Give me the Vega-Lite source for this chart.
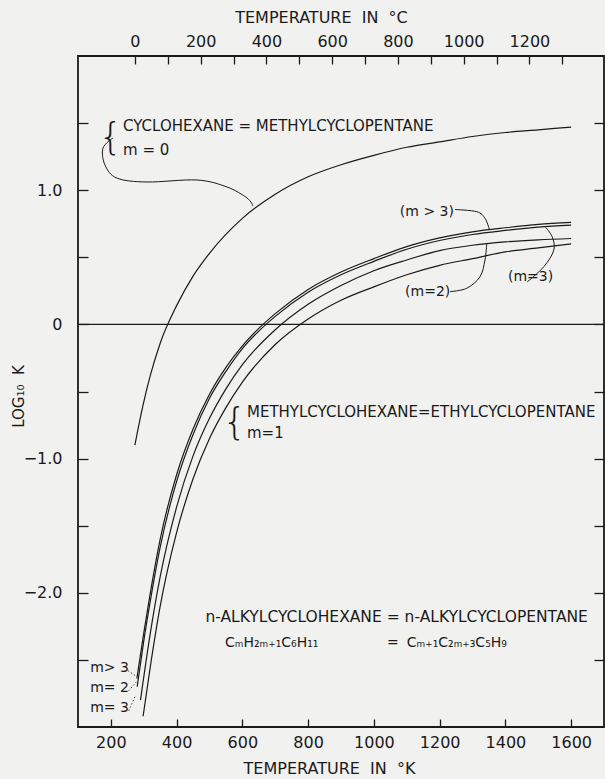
{
  "$schema": "https://vega.github.io/schema/vega-lite/v6.json",
  "width": 526,
  "height": 671,
  "autosize": "none",
  "padding": {"left": 78, "top": 56, "right": 1, "bottom": 52},
  "background": "#f1f1ef",
  "config": {
    "view": {"stroke": "#1a1a1a", "strokeWidth": 1.8},
    "font": "DejaVu Sans",
    "text": {"font": "DejaVu Sans", "color": "#1a1a1a"},
    "axis": {
      "domain": false, "grid": false, "tickColor": "#1a1a1a", "tickWidth": 1.3,
      "labelFont": "DejaVu Sans", "labelFontSize": 16, "labelColor": "#1a1a1a",
      "titleFont": "DejaVu Sans", "titleFontSize": 16, "titleFontWeight": "normal", "titleColor": "#1a1a1a"
    }
  },
  "datasets": {
    "curves": [
      {"s": "m0", "K": 273, "L": -0.90}, {"s": "m0", "K": 298, "L": -0.60}, {"s": "m0", "K": 320, "L": -0.38},
      {"s": "m0", "K": 350, "L": -0.14}, {"s": "m0", "K": 400, "L": 0.14}, {"s": "m0", "K": 450, "L": 0.36},
      {"s": "m0", "K": 500, "L": 0.53}, {"s": "m0", "K": 600, "L": 0.79}, {"s": "m0", "K": 700, "L": 0.97},
      {"s": "m0", "K": 800, "L": 1.10}, {"s": "m0", "K": 900, "L": 1.19}, {"s": "m0", "K": 1000, "L": 1.26},
      {"s": "m0", "K": 1100, "L": 1.32}, {"s": "m0", "K": 1200, "L": 1.36}, {"s": "m0", "K": 1300, "L": 1.40},
      {"s": "m0", "K": 1400, "L": 1.43}, {"s": "m0", "K": 1500, "L": 1.45}, {"s": "m0", "K": 1600, "L": 1.47},

      {"s": "a", "K": 279, "L": -2.64}, {"s": "a", "K": 300, "L": -2.30}, {"s": "a", "K": 320, "L": -2.0},
      {"s": "a", "K": 350, "L": -1.60}, {"s": "a", "K": 400, "L": -1.12}, {"s": "a", "K": 450, "L": -0.78},
      {"s": "a", "K": 500, "L": -0.52}, {"s": "a", "K": 550, "L": -0.32}, {"s": "a", "K": 600, "L": -0.16},
      {"s": "a", "K": 650, "L": -0.03}, {"s": "a", "K": 700, "L": 0.08}, {"s": "a", "K": 800, "L": 0.26},
      {"s": "a", "K": 900, "L": 0.39}, {"s": "a", "K": 1000, "L": 0.49}, {"s": "a", "K": 1100, "L": 0.58},
      {"s": "a", "K": 1200, "L": 0.645}, {"s": "a", "K": 1300, "L": 0.69}, {"s": "a", "K": 1400, "L": 0.72},
      {"s": "a", "K": 1500, "L": 0.745}, {"s": "a", "K": 1600, "L": 0.76},

      {"s": "b", "K": 280, "L": -2.70}, {"s": "b", "K": 300, "L": -2.36}, {"s": "b", "K": 320, "L": -2.06},
      {"s": "b", "K": 350, "L": -1.66}, {"s": "b", "K": 400, "L": -1.17}, {"s": "b", "K": 450, "L": -0.82},
      {"s": "b", "K": 500, "L": -0.55}, {"s": "b", "K": 550, "L": -0.35}, {"s": "b", "K": 600, "L": -0.18},
      {"s": "b", "K": 650, "L": -0.05}, {"s": "b", "K": 700, "L": 0.06}, {"s": "b", "K": 800, "L": 0.24},
      {"s": "b", "K": 900, "L": 0.37}, {"s": "b", "K": 1000, "L": 0.47}, {"s": "b", "K": 1100, "L": 0.56},
      {"s": "b", "K": 1200, "L": 0.625}, {"s": "b", "K": 1300, "L": 0.67}, {"s": "b", "K": 1400, "L": 0.70},
      {"s": "b", "K": 1500, "L": 0.725}, {"s": "b", "K": 1600, "L": 0.74},

      {"s": "c", "K": 298, "L": -2.92}, {"s": "c", "K": 320, "L": -2.55}, {"s": "c", "K": 350, "L": -2.10},
      {"s": "c", "K": 400, "L": -1.55}, {"s": "c", "K": 450, "L": -1.15}, {"s": "c", "K": 500, "L": -0.85},
      {"s": "c", "K": 550, "L": -0.62}, {"s": "c", "K": 600, "L": -0.43}, {"s": "c", "K": 700, "L": -0.15},
      {"s": "c", "K": 800, "L": 0.04}, {"s": "c", "K": 900, "L": 0.18}, {"s": "c", "K": 1000, "L": 0.28},
      {"s": "c", "K": 1100, "L": 0.37}, {"s": "c", "K": 1200, "L": 0.44}, {"s": "c", "K": 1300, "L": 0.49},
      {"s": "c", "K": 1400, "L": 0.54}, {"s": "c", "K": 1500, "L": 0.57}, {"s": "c", "K": 1600, "L": 0.60},

      {"s": "d", "K": 290, "L": -2.80}, {"s": "d", "K": 320, "L": -2.30}, {"s": "d", "K": 350, "L": -1.88},
      {"s": "d", "K": 400, "L": -1.36}, {"s": "d", "K": 450, "L": -0.98}, {"s": "d", "K": 500, "L": -0.70},
      {"s": "d", "K": 550, "L": -0.48}, {"s": "d", "K": 600, "L": -0.30}, {"s": "d", "K": 700, "L": -0.04},
      {"s": "d", "K": 800, "L": 0.15}, {"s": "d", "K": 900, "L": 0.29}, {"s": "d", "K": 1000, "L": 0.40},
      {"s": "d", "K": 1100, "L": 0.48}, {"s": "d", "K": 1200, "L": 0.55}, {"s": "d", "K": 1300, "L": 0.59},
      {"s": "d", "K": 1400, "L": 0.615}, {"s": "d", "K": 1500, "L": 0.63}, {"s": "d", "K": 1600, "L": 0.64}
    ],
    "arrows": [
      {"id": "a1", "o": 1, "K": 206.5, "L": 1.389}, {"id": "a1", "o": 2, "K": 176, "L": 1.314},
      {"id": "a1", "o": 3, "K": 182.1, "L": 1.187}, {"id": "a1", "o": 4, "K": 218.6, "L": 1.09},
      {"id": "a1", "o": 5, "K": 309.9, "L": 1.061}, {"id": "a1", "o": 6, "K": 462, "L": 1.076},
      {"id": "a1", "o": 7, "K": 553.2, "L": 1.024}, {"id": "a1", "o": 8, "K": 614.1, "L": 0.942},
      {"id": "a1", "o": 9, "K": 632.3, "L": 0.882},
      {"id": "a2", "o": 1, "K": 1246.8, "L": 0.856}, {"id": "a2", "o": 2, "K": 1312.8, "L": 0.84},
      {"id": "a2", "o": 3, "K": 1338, "L": 0.791}, {"id": "a2", "o": 4, "K": 1351.1, "L": 0.709},
      {"id": "a3", "o": 1, "K": 1231.6, "L": 0.244}, {"id": "a3", "o": 2, "K": 1282.4, "L": 0.269},
      {"id": "a3", "o": 3, "K": 1322.9, "L": 0.355}, {"id": "a3", "o": 4, "K": 1338, "L": 0.48},
      {"id": "a3", "o": 5, "K": 1343.2, "L": 0.599},
      {"id": "a4", "o": 1, "K": 1466.2, "L": 0.316}, {"id": "a4", "o": 2, "K": 1517, "L": 0.43},
      {"id": "a4", "o": 3, "K": 1547.4, "L": 0.554}, {"id": "a4", "o": 4, "K": 1542.2, "L": 0.654},
      {"id": "a4", "o": 5, "K": 1521.9, "L": 0.724}
    ],
    "leaders": [
      {"id": "l1", "o": 1, "K": 252, "L": -2.58}, {"id": "l1", "o": 2, "K": 276, "L": -2.62},
      {"id": "l2", "o": 1, "K": 254, "L": -2.73}, {"id": "l2", "o": 2, "K": 279, "L": -2.66},
      {"id": "l3", "o": 1, "K": 254, "L": -2.88}, {"id": "l3", "o": 2, "K": 274, "L": -2.77}
    ],
    "biglabels": [
      {"t": "CYCLOHEXANE = METHYLCYCLOPENTANE", "K": 237, "L": 1.478},
      {"t": "m = 0", "K": 237, "L": 1.30},
      {"t": "METHYLCYCLOHEXANE=ETHYLCYCLOPENTANE", "K": 614, "L": -0.653},
      {"t": "m=1", "K": 614, "L": -0.809}
    ],
    "labels": [
      {"t": "CₘH₂ₘ₊₁C₆H₁₁", "K": 547, "L": -2.374},
      {"t": "=", "K": 1040, "L": -2.374},
      {"t": "Cₘ₊₁C₂ₘ₊₃C₅H₉", "K": 1100, "L": -2.374},
      {"t": "(m > 3)", "K": 1079, "L": 0.84},
      {"t": "(m=2)", "K": 1095, "L": 0.24},
      {"t": "(m=3)", "K": 1408, "L": 0.353},
      {"t": "m> 3", "K": 137, "L": -2.56},
      {"t": "m= 2", "K": 137, "L": -2.71},
      {"t": "m= 3", "K": 137, "L": -2.86}
    ],
    "braces": [
      {"t": "{", "K": 236, "L": 1.39},
      {"t": "{", "K": 613, "L": -0.731}
    ],
    "titles": [
      {"t": "n-ALKYLCYCLOHEXANE = n-ALKYLCYCLOPENTANE", "K": 1651, "L": -2.18}
    ],
    "zero": [{"L": 0}],
    "dummy": [{"C": 0, "L": 0}]
  },
  "layer": [
    {
      "layer": [
        {
          "data": {"name": "zero"},
          "mark": {"type": "rule", "color": "#1a1a1a", "strokeWidth": 1.2},
          "encoding": {"y": {"field": "L", "type": "quantitative"}}
        },
        {
          "data": {"name": "curves"},
          "mark": {"type": "line", "color": "#1a1a1a", "strokeWidth": 1.2, "interpolate": "monotone"},
          "encoding": {
            "x": {
              "field": "K", "type": "quantitative",
              "scale": {"domain": [100, 1700], "nice": false, "zero": false},
              "axis": {
                "orient": "bottom", "title": "TEMPERATURE\u00a0\u00a0IN\u00a0\u00a0°K",
                "values": [200, 300, 400, 500, 600, 700, 800, 900, 1000, 1100, 1200, 1300, 1400, 1500, 1600],
                "labelExpr": "datum.value % 200 == 0 ? datum.value : ''",
                "tickSize": -8, "labelPadding": 15,
                "titleX": 251, "titleY": 41, "titleBaseline": "middle"
              }
            },
            "y": {
              "field": "L", "type": "quantitative",
              "scale": {"domain": [-3, 2], "nice": false, "zero": false},
              "axis": {
                "orient": "left", "title": "LOG₁₀\u00a0\u00a0K",
                "values": [-2.5, -2, -1.5, -1, -0.5, 0, 0.5, 1, 1.5],
                "labelExpr": "datum.value == 0 ? '0' : (datum.value % 1 == 0 ? format(datum.value, '.1f') : '')",
                "tickSize": -10, "labelPadding": 26,
                "titleX": -60, "titleY": 340, "titleBaseline": "middle", "titleFontSize": 15
              }
            },
            "detail": {"field": "s"}
          }
        },
        {
          "data": {"name": "arrows"},
          "mark": {"type": "line", "color": "#1a1a1a", "strokeWidth": 1, "interpolate": "cardinal"},
          "encoding": {
            "x": {"field": "K", "type": "quantitative"},
            "y": {"field": "L", "type": "quantitative"},
            "detail": {"field": "id"},
            "order": {"field": "o"}
          }
        },
        {
          "data": {"name": "leaders"},
          "mark": {"type": "line", "color": "#1a1a1a", "strokeWidth": 0.8, "strokeDash": [1.5, 2]},
          "encoding": {
            "x": {"field": "K", "type": "quantitative"},
            "y": {"field": "L", "type": "quantitative"},
            "detail": {"field": "id"},
            "order": {"field": "o"}
          }
        },
        {
          "data": {"name": "biglabels"},
          "mark": {"type": "text", "align": "left", "baseline": "middle", "fontSize": 15},
          "encoding": {
            "x": {"field": "K", "type": "quantitative"},
            "y": {"field": "L", "type": "quantitative"},
            "text": {"field": "t"}
          }
        },
        {
          "data": {"name": "labels"},
          "mark": {"type": "text", "align": "left", "baseline": "middle", "fontSize": 14},
          "encoding": {
            "x": {"field": "K", "type": "quantitative"},
            "y": {"field": "L", "type": "quantitative"},
            "text": {"field": "t"}
          }
        },
        {
          "data": {"name": "braces"},
          "mark": {"type": "text", "align": "right", "baseline": "middle", "fontSize": 38, "font": "DejaVu Sans", "fontWeight": 200},
          "encoding": {
            "x": {"field": "K", "type": "quantitative"},
            "y": {"field": "L", "type": "quantitative"},
            "text": {"field": "t"}
          }
        },
        {
          "data": {"name": "titles"},
          "mark": {"type": "text", "align": "right", "baseline": "middle", "fontSize": 15.5},
          "encoding": {
            "x": {"field": "K", "type": "quantitative"},
            "y": {"field": "L", "type": "quantitative"},
            "text": {"field": "t"}
          }
        }
      ]
    },
    {
      "data": {"name": "dummy"},
      "mark": {"type": "point", "opacity": 0},
      "encoding": {
        "x": {
          "field": "C", "type": "quantitative",
          "scale": {"domain": [-173.15, 1426.85], "nice": false, "zero": false},
          "axis": {
            "orient": "top", "title": "TEMPERATURE\u00a0\u00a0IN\u00a0\u00a0°C",
            "values": [0, 100, 200, 300, 400, 500, 600, 700, 800, 900, 1000, 1100, 1200, 1300],
            "labelExpr": "datum.value % 200 == 0 ? datum.value : ''",
            "tickSize": -8, "labelPadding": 15,
            "titleX": 243, "titleY": -39, "titleBaseline": "middle"
          }
        },
        "y": {
          "field": "L", "type": "quantitative",
          "scale": {"domain": [-3, 2], "nice": false, "zero": false},
          "axis": {
            "orient": "right", "title": null, "labels": false,
            "values": [-2.5, -2, -1.5, -1, -0.5, 0, 0.5, 1, 1.5],
            "tickSize": -10
          }
        }
      }
    }
  ],
  "resolve": {"scale": {"x": "independent", "y": "independent"}}
}
